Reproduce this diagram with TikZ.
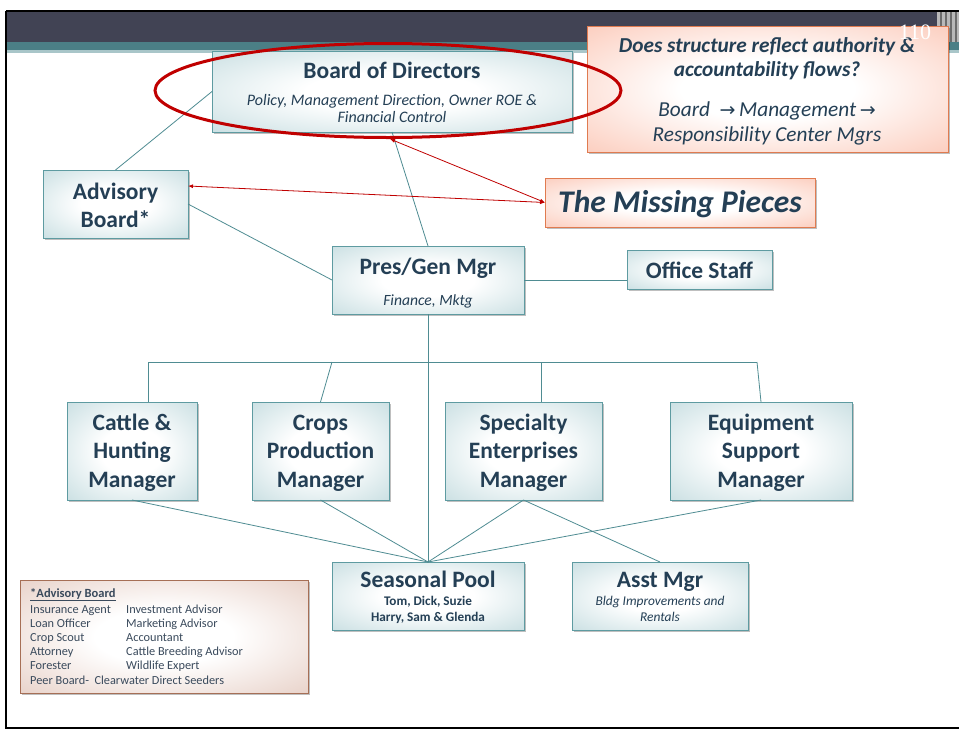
\documentclass[tikz,border=0pt]{standalone}
\usepackage{fontspec}
\setmainfont{Carlito}
\newfontfamily\symf{DejaVu Sans}
\newfontfamily\numf{Liberation Serif}
\usetikzlibrary{shadows,arrows.meta}
\definecolor{txt}{HTML}{243F55}
\definecolor{boxline}{HTML}{5E9BA1}
\definecolor{tmid}{HTML}{ABCDD2}
\definecolor{tcor}{HTML}{8CB7BD}
\definecolor{omid}{HTML}{FAB098}
\definecolor{ocor}{HTML}{F79A7E}
\definecolor{lmid}{HTML}{DBB8AA}
\definecolor{lcor}{HTML}{C99A88}
\definecolor{conncol}{HTML}{4F8C92}
\definecolor{hdark}{HTML}{414354}
\definecolor{hteal}{HTML}{4B7F86}
\definecolor{hlight}{HTML}{A9C6C9}
\definecolor{orline}{HTML}{E07B50}
\definecolor{lgline}{HTML}{A66F56}
\definecolor{redl}{HTML}{C00000}
\definecolor{lgtxt}{HTML}{3A4A5C}
\pgfdeclareradialshading{tshade}{\pgfpoint{0bp}{0bp}}{color(0bp)=(white); color(12bp)=(white); color(50bp)=(tmid); color(71bp)=(tcor)}
\pgfdeclareradialshading{oshade}{\pgfpoint{0bp}{0bp}}{color(0bp)=(white); color(12bp)=(white); color(50bp)=(omid); color(71bp)=(ocor)}
\pgfdeclareradialshading{lshade}{\pgfpoint{0bp}{0bp}}{color(0bp)=(white); color(12bp)=(white); color(50bp)=(lmid); color(71bp)=(lcor)}
\tikzset{
  box/.style={draw=boxline, line width=1pt, shade, shading=tshade,
    inner sep=0pt, outer sep=0pt, anchor=north west,
    drop shadow={shadow xshift=1.5pt, shadow yshift=-2pt, opacity=0.25, fill=black}},
  obox/.style={box, draw=orline, shading=oshade},
  lgbox/.style={box, draw=lgline, shading=lshade},
  conn/.style={draw=conncol, line width=0.8pt},
  redarr/.style={draw=redl, line width=0.8pt, {Latex[length=5pt,width=4pt]}-{Latex[length=5pt,width=4pt]}},
  ttl/.style={font=\fontsize{23.5}{26}\selectfont\bfseries, text=txt, anchor=base, inner sep=0pt},
  sub/.style={font=\fontsize{16}{18}\selectfont\itshape, text=txt, anchor=base, inner sep=0pt},
  q/.style={font=\fontsize{21.3}{24}\selectfont\bfseries\itshape, text=txt, anchor=base, inner sep=0pt},
  qi/.style={font=\fontsize{21.3}{24}\selectfont\itshape, text=txt, anchor=base, inner sep=0pt},
  sm/.style={font=\fontsize{13.2}{15}\selectfont\bfseries, text=txt, anchor=base, inner sep=0pt},
  smi/.style={font=\fontsize{13.4}{15}\selectfont\itshape, text=txt, anchor=base, inner sep=0pt},
  lg/.style={font=\fontsize{12.3}{14}\selectfont, text=lgtxt, anchor=base west, inner sep=0pt},
}
\begin{document}
\begin{tikzpicture}[x=1pt,y=-1pt]
\useasboundingbox (0,0) rectangle (959,731);
\fill[white] (0,0) rectangle (959,731);
% header
\fill[hdark] (6,12) rectangle (937,42);
\fill[hteal] (6,42) rectangle (959,50);
\fill[hlight] (6,50) rectangle (959,53);
\fill[gray!55] (937,12) rectangle (959,42);
\foreach \xx in {940,945,950,955} \fill[gray!85!black] (\xx,12) rectangle (\xx+1.5,42);
% frame
\draw[line width=2.5pt] (6,11) -- (959,11);
\draw[line width=2pt] (6,11) -- (6,728) -- (959,728);

% boxes
\node[box, minimum width=360pt, minimum height=81pt] (bod) at (212,51) {};
\node[box, minimum width=145pt, minimum height=68pt] (adv) at (43,170) {};
\node[box, minimum width=192pt, minimum height=68pt] (pres) at (332,246) {};
\node[box, minimum width=145pt, minimum height=39pt] (office) at (627,250) {};
\node[obox, minimum width=270pt, minimum height=49pt] (mp) at (545,178) {};
\node[obox, minimum width=361pt, minimum height=126pt] (qbox) at (587,26) {};
\node[box, minimum width=130pt, minimum height=98pt] (cattle) at (67,402) {};
\node[box, minimum width=137pt, minimum height=98pt] (crops) at (252,402) {};
\node[box, minimum width=157pt, minimum height=98pt] (spec) at (445,402) {};
\node[box, minimum width=182pt, minimum height=98pt] (equip) at (670,402) {};
\node[box, minimum width=192pt, minimum height=68pt] (pool) at (332,562) {};
\node[box, minimum width=176pt, minimum height=68pt] (asst) at (572,562) {};
\node[lgbox, minimum width=288pt, minimum height=113pt] (legend) at (20,580) {};

% texts
\node[ttl] (bodt) at (392,78) {Board of Directors};
\node[sub] (bods1) at (392,105) {Policy, Management Direction, Owner ROE \&};
\node[sub] (bods2) at (392,122) {Financial Control};
\node[q] (q1) at (767,52) {Does structure reflect authority \&};
\node[q] (q2) at (767,76) {accountability flows?};
\node[qi] (q3) at (767,116) {Board\ \ {\symf\fontsize{19}{20}\selectfont →}\,Management\,{\symf\fontsize{19}{20}\selectfont →}};
\node[qi] (q4) at (767,141) {Responsibility Center Mgrs};
\node[ttl] (advt1) at (115.5,199) {Advisory};
\node[ttl] (advt2) at (115.5,227) {Board*};
\node[ttl] (prest) at (428,274) {Pres/Gen Mgr};
\node[sub, font=\fontsize{15.6}{17}\selectfont\itshape] (press) at (428,305) {Finance, Mktg};
\node[ttl] (offt) at (699.5,278) {Office Staff};
\node[font=\fontsize{31.5}{34}\selectfont\bfseries\itshape, text=txt, anchor=base, inner sep=0pt] (mpt) at (680,212) {The Missing Pieces};
\node[ttl] (ca1) at (132,430) {Cattle \&};
\node[ttl] (ca2) at (132,458.5) {Hunting};
\node[ttl] (ca3) at (132,487) {Manager};
\node[ttl] (cr1) at (320.5,430) {Crops};
\node[ttl] (cr2) at (320.5,458.5) {Production};
\node[ttl] (cr3) at (320.5,487) {Manager};
\node[ttl] (sp1) at (523.5,430) {Specialty};
\node[ttl] (sp2) at (523.5,458.5) {Enterprises};
\node[ttl] (sp3) at (523.5,487) {Manager};
\node[ttl] (eq1) at (761,430) {Equipment};
\node[ttl] (eq2) at (761,458.5) {Support};
\node[ttl] (eq3) at (761,487) {Manager};
\node[ttl] (poolt) at (428,587) {Seasonal Pool};
\node[sm] (pool1) at (428,605) {Tom, Dick, Suzie};
\node[sm] (pool2) at (428,621) {Harry, Sam \& Glenda};
\node[ttl] (asstt) at (660,587) {Asst Mgr};
\node[smi] (asst1) at (660,605) {Bldg Improvements and};
\node[smi] (asst2) at (660,621) {Rentals};
\node[lg, font=\fontsize{12.5}{14}\selectfont\bfseries] (lgh) at (30,597) {\underline{*Advisory Board}};
\node[lg] (l1a) at (30,613) {Insurance Agent};
\node[lg] (l1b) at (126,613) {Investment Advisor};
\node[lg] (l2a) at (30,627.2) {Loan Officer};
\node[lg] (l2b) at (126,627.2) {Marketing Advisor};
\node[lg] (l3a) at (30,641.4) {Crop Scout};
\node[lg] (l3b) at (126,641.4) {Accountant};
\node[lg] (l4a) at (30,655.6) {Attorney};
\node[lg] (l4b) at (126,655.6) {Cattle Breeding Advisor};
\node[lg] (l5a) at (30,669.8) {Forester};
\node[lg] (l5b) at (126,669.8) {Wildlife Expert};
\node[lg] (l6) at (30,684) {Peer Board-\ \ Clearwater Direct Seeders};

% connectors
\coordinate (b1) at (148,362);
\coordinate (b2) at (332,362);
\coordinate (b3) at (541,362);
\coordinate (b4) at (757,362);
\draw[conn] (bod.west) -- (adv.north);
\draw[conn] (bod.south) -- (pres.north);
\draw[conn] (adv.east) -- (pres.west);
\draw[conn] (pres.east) -- (office.west |- pres.east);
\draw[conn] (pres.south) -- (pool.north);
\draw[conn] (b1) -- (b4);
\draw[conn] (b1) -- (b1 |- cattle.north);
\draw[conn] (b2) -- (crops.north);
\draw[conn] (b3) -- (b3 |- spec.north);
\draw[conn] (b4) -- (equip.north);
\draw[conn] (cattle.south) -- (pool.north);
\draw[conn] (crops.south) -- (pool.north);
\draw[conn] (spec.south) -- (pool.north);
\draw[conn] (equip.south) -- (pool.north);
\draw[conn] (spec.south) -- (asst.north);

% red arrows
\coordinate (bodarr) at (390,139);
\coordinate (advarr) at (188,186);
\draw[redarr] (bodarr) -- (mp.west);
\draw[redarr] (advarr) -- (mp.west);

% red ellipse
\draw[redl, line width=3pt] (388,90.5) ellipse [x radius=233, y radius=47];

% page number
\node[font=\numf\fontsize{22}{24}\selectfont, text=white, anchor=base, inner sep=0pt] (pgno) at (915,39) {110};
\end{tikzpicture}
\end{document}
